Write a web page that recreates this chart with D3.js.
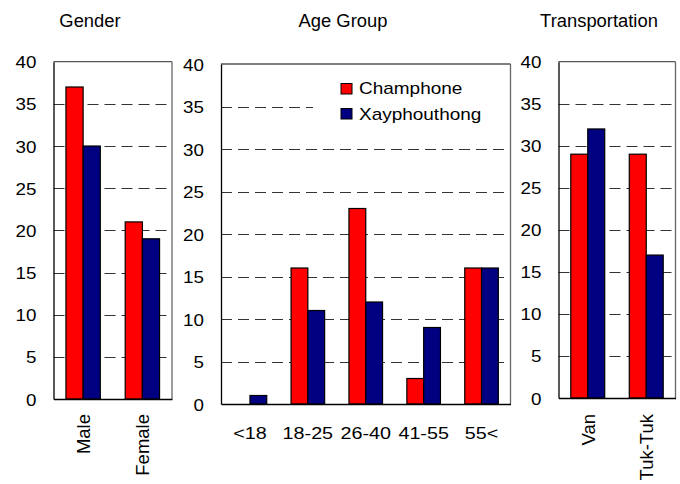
<!DOCTYPE html>
<html>
<head>
<meta charset="utf-8">
<script src="https://cdn.jsdelivr.net/npm/d3@7"></script>
<style>
  html, body { margin: 0; padding: 0; background: #fff; }
  text { font-family: "Liberation Sans", Arial, sans-serif; fill: #000; }
</style>
</head>
<body>
<svg id="chart" width="680" height="484"></svg>
<script>
// ---- data ----
const seriesNames = ["Champhone", "Xayphouthong"];
const seriesColors = ["#FF0000", "#000080"];

const genderCategories = ["Male", "Female"];
const genderChamphone = [37, 21];
const genderXayphouthong = [30, 19];

const ageCategories = ["<18", "18-25", "26-40", "41-55", "55<"];
const ageChamphone = [0, 16, 23, 3, 16];
const ageXayphouthong = [1, 11, 12, 9, 16];

const transportCategories = ["Van", "Tuk-Tuk"];
const transportChamphone = [29, 29];
const transportXayphouthong = [32, 17];

const yTicks = [0, 5, 10, 15, 20, 25, 30, 35, 40];
const panelTitles = ["Gender", "Age Group", "Transportation"];

// ---- layout ----
const svg = d3.select("#chart");

const panels = [
  { title: panelTitles[0], cats: genderCategories, vals: [genderChamphone, genderXayphouthong],
    box: { l: 53.5, r: 172, t: 61.7, b: 399 }, titleX: 90, rotate: true, legend: false },
  { title: panelTitles[1], cats: ageCategories, vals: [ageChamphone, ageXayphouthong],
    box: { l: 221, r: 510.5, t: 64, b: 404 }, titleX: 343, rotate: false, legend: true },
  { title: panelTitles[2], cats: transportCategories, vals: [transportChamphone, transportXayphouthong],
    box: { l: 558.5, r: 675.5, t: 61.7, b: 398 }, titleX: 599, rotate: true, legend: false }
];

panels.forEach(p => {
  const g = svg.append("g");
  const { l, r, t, b } = p.box;

  const x0 = d3.scaleBand().domain(p.cats).range([l, r]).paddingInner(0.42).paddingOuter(0.21);
  const x1 = d3.scaleBand().domain(seriesNames).range([0, x0.bandwidth()]);
  const y = d3.scaleLinear().domain([0, 40]).range([b, t]);

  // title
  g.append("text")
    .attr("transform", `translate(${p.titleX},27) scale(1.05,1)`)
    .attr("text-anchor", "middle")
    .style("font-size", "17.5px")
    .text(p.title);

  // gridlines
  g.append("g").selectAll("line")
    .data(yTicks.filter(v => v > 0 && v < 40))
    .join("line")
    .attr("x1", l).attr("x2", r)
    .attr("y1", d => Math.round(y(d)) + 0.5).attr("y2", d => Math.round(y(d)) + 0.5)
    .attr("stroke", "#333").attr("stroke-width", 1)
    .attr("stroke-dasharray", "11,6");

  // legend background + legend
  if (p.legend) {
    g.append("rect").attr("x", 313).attr("y", 76).attr("width", 192).attr("height", 52)
      .attr("fill", "#fff");
    const lg = g.append("g");
    seriesNames.forEach((s, i) => {
      lg.append("rect")
        .attr("x", 341).attr("y", 83.5 + i * 25)
        .attr("width", 11).attr("height", 10.5)
        .attr("fill", seriesColors[i]).attr("stroke", "#000").attr("stroke-width", 1);
      lg.append("text")
        .attr("transform", `translate(359,${94.3 + i * 25.5}) scale(1.13,1)`)
        .style("font-size", "16.8px")
        .text(s);
    });
  }

  // bars
  const data = [];
  p.cats.forEach((c, ci) => {
    seriesNames.forEach((s, si) => {
      data.push({ cat: c, series: s, si, value: p.vals[si][ci] });
    });
  });
  g.append("g").selectAll("rect")
    .data(data.filter(d => d.value > 0))
    .join("rect")
    .attr("x", d => x0(d.cat) + x1(d.series))
    .attr("y", d => y(d.value))
    .attr("width", x1.bandwidth())
    .attr("height", d => y(0) - y(d.value))
    .attr("fill", d => seriesColors[d.si])
    .attr("stroke", "#000").attr("stroke-width", 1.2);

  // frame: top and right grey, left and bottom black
  g.append("line").attr("x1", l).attr("x2", r).attr("y1", t).attr("y2", t)
    .attr("stroke", "#555").attr("stroke-width", 1.3);
  g.append("line").attr("x1", r).attr("x2", r).attr("y1", t).attr("y2", b)
    .attr("stroke", "#666").attr("stroke-width", 1.3);

  // y axis
  const yAxis = g.append("g").attr("transform", `translate(${l},0)`)
    .call(d3.axisLeft(y).tickValues(yTicks).tickSize(0).tickFormat(d3.format("d")));
  yAxis.select(".domain").attr("stroke", "#000").attr("stroke-width", 1.3);
  yAxis.selectAll("text")
    .attr("x", null).attr("dy", null)
    .attr("transform", "translate(-17,6) scale(1.12,1)")
    .attr("text-anchor", "end")
    .style("font-family", "'Liberation Sans', Arial, sans-serif")
    .style("font-size", "16.8px")
    .attr("fill", "#000");

  // x axis
  const xAxis = g.append("g").attr("transform", `translate(0,${b})`)
    .call(d3.axisBottom(x0).tickSize(0));
  xAxis.select(".domain").attr("stroke", "#000").attr("stroke-width", 1.3);
  xAxis.selectAll("text")
    .attr("y", null).attr("dy", null)
    .style("font-family", "'Liberation Sans', Arial, sans-serif")
    .attr("fill", "#000");
  if (p.rotate) {
    xAxis.selectAll("text")
      .attr("text-anchor", "end")
      .style("font-size", "18.5px")
      .attr("transform", `translate(7,${414 - b}) rotate(-90)`);
  } else {
    xAxis.selectAll("text")
      .attr("text-anchor", "middle")
      .style("font-size", "15.8px")
      .attr("transform", `translate(0,${438.5 - b}) scale(1.25,1)`);
  }
});
</script>
</body>
</html>
